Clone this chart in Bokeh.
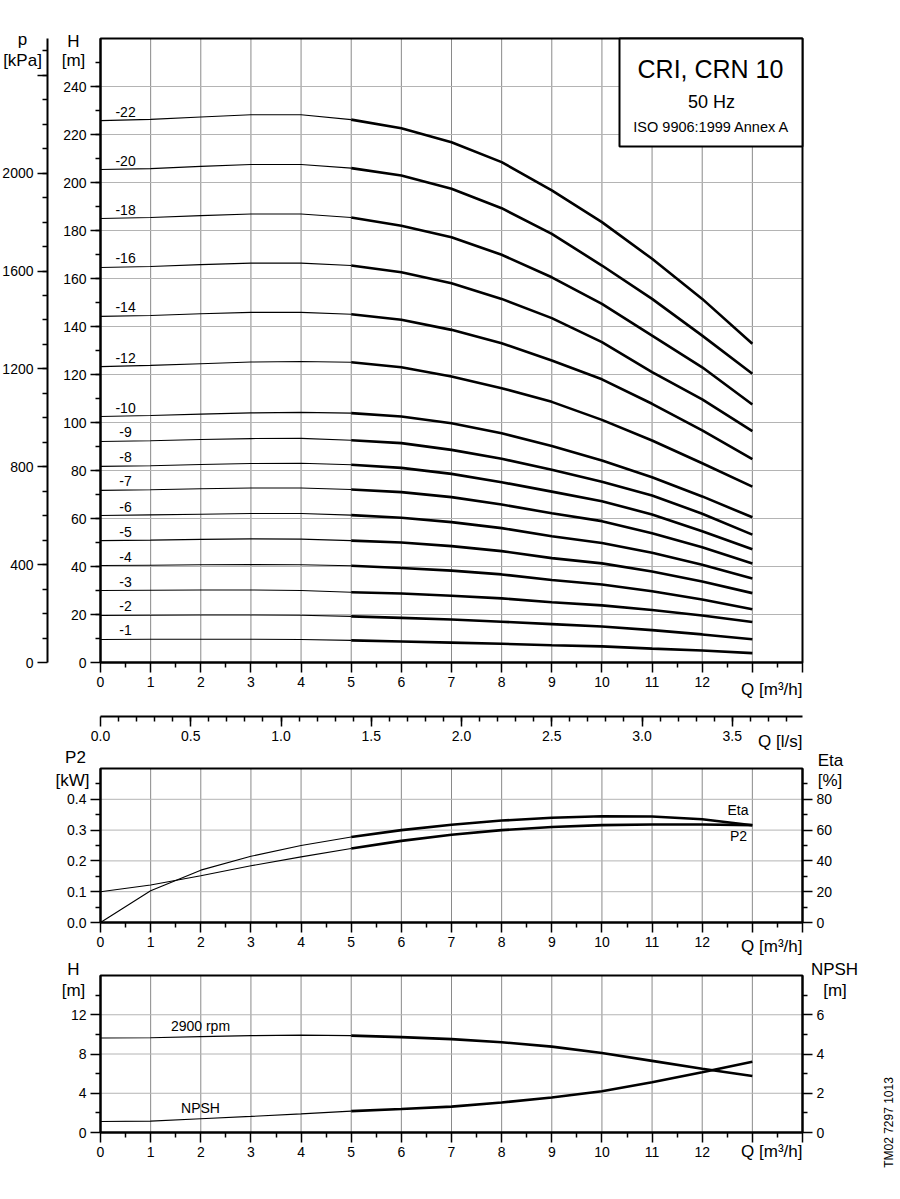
import math
from bokeh.plotting import figure
from bokeh.models import (LinearAxis, Range1d, FixedTicker, Label, BoxAnnotation,
                          PrintfTickFormatter)
from bokeh.embed import file_html
from bokeh.resources import INLINE

FONT = "Liberation Sans"

# ---------------- data ----------------
flow_m3h = [0, 1, 2, 3, 4, 5, 6, 7, 8, 9, 10, 11, 12, 13]

stage_names = ["-1", "-2", "-3", "-4", "-5", "-6", "-7", "-8", "-9", "-10",
               "-12", "-14", "-16", "-18", "-20", "-22"]

head_1 = [9.6, 9.7, 9.7, 9.7, 9.6, 9.2, 8.75, 8.3, 7.8, 7.2, 6.7, 5.8, 5.0, 3.9]
head_2 = [19.6, 19.7, 19.8, 19.8, 19.7, 19.2, 18.6, 17.9, 17.0, 16.0, 15.0, 13.5, 11.7, 9.7]
head_3 = [30.0, 30.1, 30.2, 30.2, 30.0, 29.3, 28.75, 27.8, 26.7, 25.1, 23.8, 21.9, 19.6, 16.9]
head_4 = [40.4, 40.5, 40.7, 40.8, 40.7, 40.3, 39.4, 38.3, 36.7, 34.4, 32.5, 29.7, 26.25, 22.2]
head_5 = [50.8, 51.0, 51.3, 51.5, 51.4, 50.8, 50.0, 48.5, 46.4, 43.5, 41.3, 37.9, 33.75, 28.9]
head_6 = [61.25, 61.5, 61.8, 62.1, 62.1, 61.4, 60.3, 58.5, 56.0, 52.6, 49.8, 45.7, 40.7, 35.0]
head_7 = [71.7, 72.0, 72.4, 72.7, 72.7, 72.1, 71.0, 68.9, 65.8, 62.2, 58.9, 53.9, 48.0, 41.25]
head_8 = [81.7, 82.0, 82.5, 82.9, 83.0, 82.4, 81.1, 78.6, 75.1, 71.2, 67.2, 61.7, 54.7, 47.2]
head_9 = [92.1, 92.4, 92.9, 93.3, 93.4, 92.6, 91.4, 88.6, 84.9, 80.3, 75.3, 69.6, 62.0, 53.3]
head_10 = [102.5, 102.9, 103.5, 104.0, 104.2, 103.9, 102.5, 99.7, 95.5, 90.2, 84.2, 77.2, 69.2, 60.5]
head_12 = [123.3, 123.8, 124.5, 125.2, 125.4, 125.1, 123.0, 119.2, 114.3, 108.6, 101.1, 92.5, 83.0, 73.3]
head_14 = [144.2, 144.6, 145.3, 145.9, 145.9, 145.1, 142.8, 138.6, 133.0, 125.8, 118.0, 107.8, 96.7, 84.7]
head_16 = [164.6, 165.0, 165.8, 166.4, 166.4, 165.4, 162.6, 158.0, 151.5, 143.5, 133.5, 121.0, 109.6, 96.4]
head_18 = [185.0, 185.4, 186.2, 186.9, 186.9, 185.4, 182.0, 177.2, 169.9, 160.5, 149.4, 136.2, 123.0, 107.5]
head_20 = [205.4, 205.8, 206.7, 207.5, 207.5, 206.0, 202.9, 197.4, 189.3, 178.6, 165.4, 151.5, 136.2, 120.3]
head_22 = [225.8, 226.3, 227.3, 228.2, 228.2, 226.2, 222.6, 216.8, 208.5, 196.7, 183.5, 168.2, 151.5, 132.8]

head_curves = [head_1, head_2, head_3, head_4, head_5, head_6, head_7, head_8,
               head_9, head_10, head_12, head_14, head_16, head_18, head_20, head_22]

power_p2_kw = [0.100, 0.122, 0.152, 0.184, 0.213, 0.240, 0.265, 0.285, 0.300,
               0.310, 0.316, 0.318, 0.318, 0.316]
efficiency_pct = [0.0, 20.6, 34.0, 43.0, 50.0, 55.5, 60.0, 63.5, 66.2, 68.0,
                  69.0, 68.8, 67.0, 63.2]

head_2900rpm_m = [9.63, 9.66, 9.77, 9.87, 9.92, 9.87, 9.72, 9.52, 9.2, 8.75,
                  8.1, 7.3, 6.5, 5.75]
npsh_m = [0.56, 0.58, 0.70, 0.82, 0.95, 1.09, 1.2, 1.32, 1.53, 1.78, 2.1,
          2.56, 3.07, 3.61]

# ticks
q_major = list(range(0, 15))
q_minor = [i + 0.5 for i in range(0, 14)]
q_label_hide = {13: "", 14: ""}
h_major = list(range(0, 260, 20))
h_minor = list(range(10, 260, 10))
p_major = list(range(0, 2800, 400))
p_minor = list(range(100, 2600, 100))
ls_major = [0.0, 0.5, 1.0, 1.5, 2.0, 2.5, 3.0, 3.5]
ls_minor = [i / 10 for i in range(1, 39)]
p2_major = [0.0, 0.1, 0.2, 0.3, 0.4]
p2_minor = [0.05, 0.15, 0.25, 0.35, 0.45]
eta_major = [0, 20, 40, 60, 80]
eta_minor = [10, 30, 50, 70, 90]
hb_major = [0, 4, 8, 12]
hb_minor = [2, 6, 10, 14]
npsh_major = [0, 2, 4, 6]
npsh_minor = [1, 3, 5, 7]

Q_MAX = 14
H_MAX = 260
P2_MAX = 0.5
ETA_MAX = 100
HB_MAX = 16
NPSH_MAX = 8
KPA_PER_M = 9.81
M3H_PER_LS = 3.6

# ---------------- layout constants (pixels) ----------------
W, HC = 900, 1180
X_L, X_R = 100, 802          # chart frames, left/right
TOP_T, TOP_B = 38, 662       # top chart
LS_Y = 716                   # l/s axis line
MID_T, MID_B = 768, 922      # middle chart
BOT_T, BOT_B = 975, 1132     # bottom chart
P_AXIS_X = 47                # kPa axis line

THIN = 1.1
THICK = 2.6
SPLIT = 5  # index where curves become thick
TITLE_SIZE = "17px"

PPQ = (X_R - X_L) / Q_MAX
PPH = (TOP_B - TOP_T) / H_MAX


def qx(px):
    return (px - X_L) / PPQ


def hy(py):
    return (TOP_B - py) / PPH


def mapped(a, b, py_top, py_bot):
    u = (b - a) / (py_bot - py_top)
    return Range1d(start=a - (HC - py_bot) * u, end=b + py_top * u)


p = figure(width=W, height=HC, output_backend="svg", toolbar_location=None,
           x_axis_type=None, y_axis_type=None, title=None,
           x_range=Range1d(qx(0), qx(W)), y_range=Range1d(hy(HC), hy(0)),
           min_border=0, min_border_left=0, min_border_right=0,
           min_border_top=0, min_border_bottom=0)
p.outline_line_color = None
p.background_fill_color = "white"
p.border_fill_color = "white"

p.extra_x_ranges = {"ls": Range1d(qx(0) / M3H_PER_LS, qx(W) / M3H_PER_LS)}
p.extra_y_ranges = {
    "p": mapped(0, H_MAX * KPA_PER_M, TOP_T, TOP_B),
    "p2": mapped(0, P2_MAX, MID_T, MID_B),
    "eta": mapped(0, ETA_MAX, MID_T, MID_B),
    "hb": mapped(0, HB_MAX, BOT_T, BOT_B),
    "npsh": mapped(0, NPSH_MAX, BOT_T, BOT_B),
}


def axis(place, ticks, minor, bounds, fixed, fmt=None, overrides=None, **kw):
    ax = LinearAxis(ticker=FixedTicker(ticks=ticks, minor_ticks=minor),
                    bounds=bounds, fixed_location=fixed, **kw)
    ax.axis_line_color = "black"
    ax.axis_line_width = 2
    ax.major_tick_line_color = "black"
    ax.major_tick_line_width = 1.5
    ax.minor_tick_line_color = "black"
    ax.minor_tick_line_width = 1.5
    ax.major_tick_out = 10
    ax.major_tick_in = 0
    ax.minor_tick_out = 5
    ax.minor_tick_in = 0
    ax.major_label_text_font = FONT
    ax.major_label_text_font_size = "14px"
    ax.major_label_text_color = "black"
    ax.major_label_standoff = 4
    if fmt:
        ax.formatter = PrintfTickFormatter(format=fmt)
    if overrides:
        ax.major_label_overrides = overrides
    p.add_layout(ax, place)
    return ax


def grid_lines(ymax, ygrid, yr):
    inner_q = q_major[1:-1]
    p.segment(x0=inner_q, x1=inner_q, y0=[0] * len(inner_q), y1=[ymax] * len(inner_q),
              line_color="#8a8a8a", line_width=1, y_range_name=yr)
    p.segment(x0=[0] * len(ygrid), x1=[Q_MAX] * len(ygrid), y0=ygrid, y1=ygrid,
              line_color="#b4b4b4", line_width=1, y_range_name=yr)


def frame_box(top, yr):
    p.add_layout(BoxAnnotation(left=0, right=Q_MAX, bottom=0, top=top, y_range_name=yr,
                               fill_alpha=0, line_color="black", line_width=2,
                               line_alpha=1.0))


def two_part_line(xs, ys, yr="default"):
    p.line(xs[:SPLIT + 1], ys[:SPLIT + 1], line_color="black", line_width=THIN,
           y_range_name=yr)
    p.line(xs[SPLIT:], ys[SPLIT:], line_color="black", line_width=THICK,
           y_range_name=yr)


def text_at(px, py, text, size=TITLE_SIZE, align="center", angle=0.0):
    p.add_layout(Label(x=qx(px), y=hy(py), text=text, text_font=FONT,
                       text_font_size=size, text_color="black", text_align=align,
                       text_baseline="middle", angle=angle))


# ---------------- grids ----------------
grid_lines(H_MAX, h_major[1:], "default")
grid_lines(P2_MAX, p2_major[1:], "p2")
grid_lines(HB_MAX, hb_major[1:], "hb")

# ---------------- top chart: H / p vs Q ----------------
for name, h in zip(stage_names, head_curves):
    two_part_line(flow_m3h, h)
    p.add_layout(Label(x=0.5, y=h[0], text=name, text_font=FONT, text_font_size="14px",
                       text_color="black", text_align="center",
                       text_baseline="bottom", y_offset=4))

frame_box(H_MAX, "default")
axis("below", q_major, q_minor, (0, Q_MAX), 0, overrides=q_label_hide)
axis("left", h_major, h_minor, (0, H_MAX), 0)
axis("left", p_major, p_minor, (0, H_MAX * KPA_PER_M), qx(P_AXIS_X),
     overrides={2400: ""}, y_range_name="p")
axis("below", ls_major, ls_minor, (0, Q_MAX / M3H_PER_LS), hy(LS_Y), fmt="%.1f",
     x_range_name="ls")

p.add_layout(BoxAnnotation(left=qx(619), right=Q_MAX, bottom=hy(146), top=H_MAX,
                           fill_color="white", fill_alpha=1.0,
                           line_color="black", line_width=2, line_alpha=1.0))
text_at(710, 68, "CRI, CRN 10", size="25px")
text_at(711, 101.5, "50 Hz", size="18px")
text_at(711, 126.5, "ISO 9906:1999 Annex A", size="14.5px")

text_at(22, 38.5, "p")
text_at(22, 59.5, "[kPa]")
text_at(73, 40.5, "H")
text_at(73, 60, "[m]")
text_at(X_R, 689, "Q [m\u00b3/h]", align="right")
text_at(X_R, 741, "Q [l/s]", align="right")

# ---------------- middle chart: P2 / Eta ----------------
two_part_line(flow_m3h, power_p2_kw, "p2")
two_part_line(flow_m3h, efficiency_pct, "eta")
frame_box(P2_MAX, "p2")
axis("below", q_major, q_minor, (0, Q_MAX), 0, overrides=q_label_hide,
     y_range_name="p2")
axis("left", p2_major, p2_minor, (0, P2_MAX), 0, fmt="%.1f", y_range_name="p2")
axis("right", eta_major, eta_minor, (0, ETA_MAX), Q_MAX, y_range_name="eta")

text_at(737.5, 809, "Eta", size="14px")
text_at(738, 835.5, "P2", size="14px")
text_at(75, 757, "P2")
text_at(72, 779.5, "[kW]")
text_at(830, 759.5, "Eta")
text_at(829.5, 780, "[%]")
text_at(X_R, 946, "Q [m\u00b3/h]", align="right")

# ---------------- bottom chart: H 2900 rpm / NPSH ----------------
two_part_line(flow_m3h, head_2900rpm_m, "hb")
two_part_line(flow_m3h, npsh_m, "npsh")
frame_box(HB_MAX, "hb")
axis("below", q_major, q_minor, (0, Q_MAX), 0, overrides=q_label_hide,
     y_range_name="hb")
axis("left", hb_major, hb_minor, (0, HB_MAX), 0, y_range_name="hb")
axis("right", npsh_major, npsh_minor, (0, NPSH_MAX), Q_MAX, y_range_name="npsh")

text_at(200, 1025, "2900 rpm", size="14px")
text_at(200, 1107.5, "NPSH", size="14px")
text_at(73, 969, "H")
text_at(73, 989.5, "[m]")
text_at(834, 968.5, "NPSH")
text_at(834.5, 990, "[m]")
text_at(X_R, 1151, "Q [m\u00b3/h]", align="right")
text_at(888.5, 1122, "TM02 7297 1013", size="12px", angle=math.pi / 2)

open("out.html", "w").write(file_html(p, INLINE))
